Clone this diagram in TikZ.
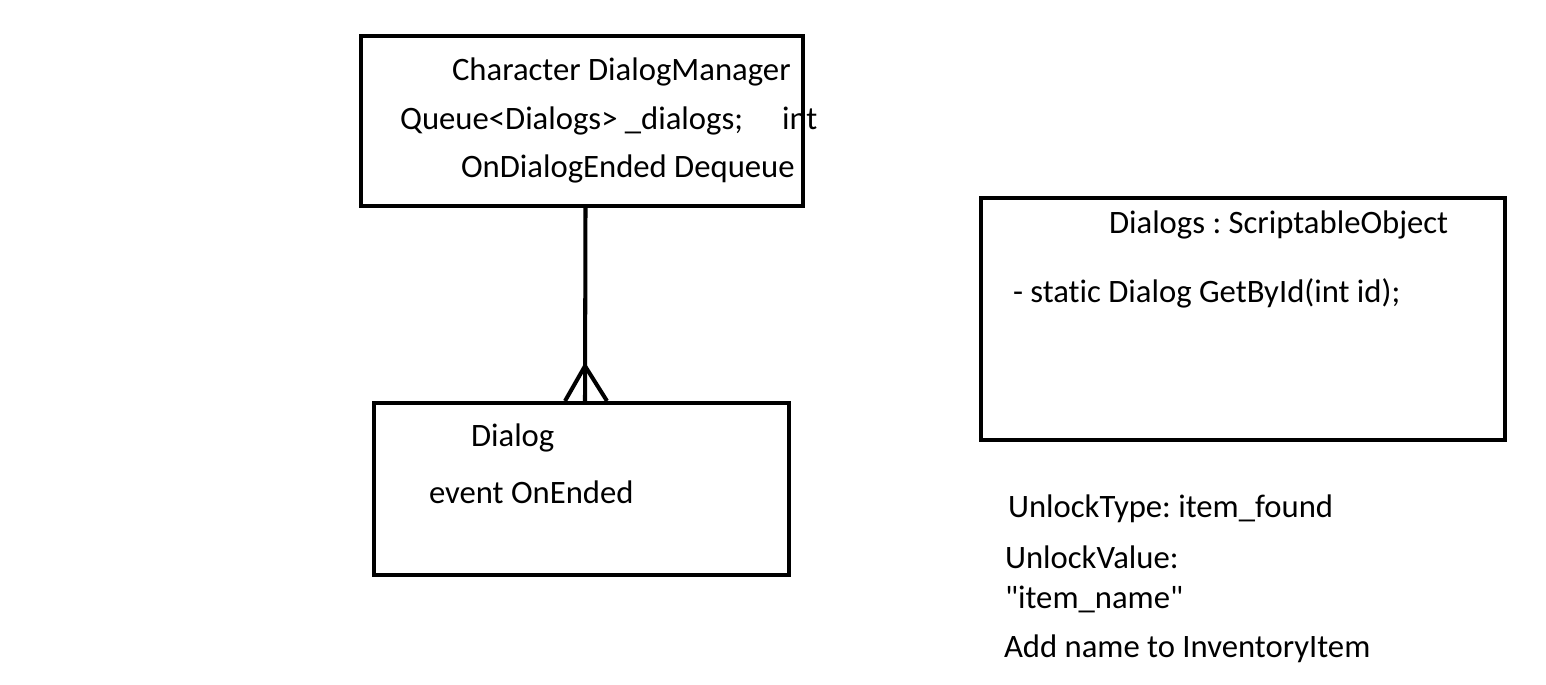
\documentclass[tikz,border=0pt]{standalone}
\usepackage{fontspec}
\setmainfont{Carlito}[Ligatures={TeXOff, NoCommon}, RawFeature={-liga}]
\usetikzlibrary{positioning}
\frenchspacing

\begin{document}
\begin{tikzpicture}[x=0.02cm, y=-0.02cm, line width=2.3pt,
  box/.style={draw, rectangle, inner sep=0pt},
  txt/.style={anchor=base west, inner sep=0pt, font=\fontsize{18.6}{22}\selectfont}]
\useasboundingbox[fill=white] (0,0) rectangle (1546,684);

\node[box, minimum width=8.84cm, minimum height=3.4cm] (mgr) at (582,121) {};
\node[box, minimum width=8.3cm, minimum height=3.44cm] (dlg) at (581.5,489) {};
\node[box, minimum width=10.48cm, minimum height=4.84cm] (so) at (1243,319) {};

\node[txt] (mgrname) at (450,80) {Character DialogManager};
\node[txt] (mgrqueue) at (398,129) {Queue<Dialogs> \_dialogs;};
\node[txt] (mgrint) at (780,129) {int};
\node[txt] (mgrdeq) at (459,177) {OnDialogEnded Dequeue};

\node[txt] (dlgname) at (469,446) {Dialog};
\node[txt] (dlgevent) at (427,503) {event OnEnded};

\node[txt] (soname) at (1107,233) {Dialogs : ScriptableObject};
\node[txt] (soget) at (1011,302) {- static Dialog GetById(int id);};

\node[txt] (utype) at (1006,517) {UnlockType: item\_found};
\node[txt] (uvalue) at (1003,568) {UnlockValue:};
\node[txt] (uname) at (1003,608) {"item\_name"};
\node[txt] (addname) at (1002,657) {Add name to InventoryItem};

% one-to-many link
\coordinate (apex) at ([xshift=0.07cm, yshift=0.7cm]dlg.north);
\draw ([xshift=0.07cm]mgr.south) -- ([xshift=0.07cm]dlg.north);
\draw ([xshift=-0.33cm]dlg.north) -- (apex) -- ([xshift=0.51cm]dlg.north);
\end{tikzpicture}
\end{document}
